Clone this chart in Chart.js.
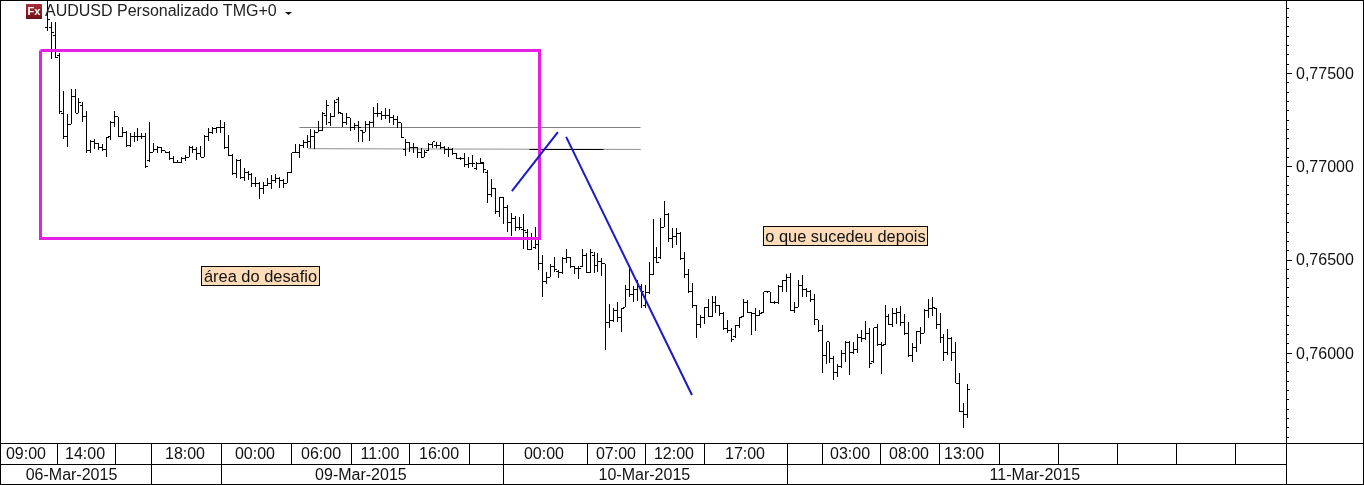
<!DOCTYPE html>
<html><head><meta charset="utf-8">
<style>html,body{margin:0;padding:0;background:#fff}canvas{display:block}</style>
<script src="https://cdn.jsdelivr.net/npm/chart.js@4/dist/chart.umd.min.js"></script>
</head><body><canvas id="c" width="1364" height="485"></canvas>
<script>
// AUDUSD prices, in units of 0.00001, one entry per bar
const highs=[77907,77773,77773,77607,77404,77280,77414,77414,77366,77344,77296,77141,77146,77125,77120,77157,77243,77296,77264,77210,77189,77178,77183,77205,77178,77178,77237,77125,77109,77103,77082,77082,77055,77033,77049,77060,77109,77109,77103,77109,77168,77205,77210,77210,77248,77237,77168,77066,77039,77039,76990,76975,76964,76942,76915,76915,76937,76953,76959,76942,76932,76969,77071,77120,77120,77141,77168,77200,77194,77243,77290,77355,77285,77355,77371,77285,77285,77259,77232,77243,77194,77243,77243,77317,77339,77296,77312,77307,77274,77269,77232,77146,77130,77125,77103,77098,77087,77125,77130,77130,77130,77109,77103,77098,77071,77049,77071,77049,77060,77022,77044,77022,76980,76932,76883,76835,76835,76792,76749,76733,76727,76744,76663,76642,76674,76615,76524,76433,76476,76513,76444,76513,76556,76513,76465,76465,76556,76535,76556,76540,76535,76508,76476,76262,76240,76272,76240,76363,76470,76358,76390,76369,76363,76486,76717,76567,76722,76814,76749,76669,76669,76647,76540,76449,76374,76256,76202,76245,76288,76304,76304,76256,76218,76176,76133,76149,76192,76288,76283,76218,76240,76229,76326,76331,76326,76278,76363,76390,76422,76428,76272,76390,76417,76347,76337,76315,76176,76149,76058,76058,75983,75940,76015,76064,76064,76058,76101,76122,76171,76133,76133,76154,76058,76256,76208,76240,76240,76251,76208,76165,76053,76117,76138,76235,76288,76299,76240,76213,76101,76128,76084,76058,75892,75731,75833];
const lows=[77725,77575,77580,77280,77146,77103,77226,77285,77285,77237,77071,77071,77092,77087,77082,77049,77141,77210,77157,77157,77103,77103,77130,77135,77146,76990,77022,77076,77071,77071,77071,77033,77017,77017,77017,77028,77049,77071,77033,77049,77049,77135,77173,77178,77178,77092,77055,76953,76937,76932,76921,76926,76889,76889,76824,76851,76894,76878,76910,76883,76883,76910,76964,77071,77044,77098,77098,77098,77092,77183,77189,77221,77216,77264,77280,77210,77221,77189,77194,77130,77130,77183,77135,77210,77264,77248,77253,77232,77221,77205,77152,77055,77076,77071,77044,77044,77049,77082,77098,77098,77092,77066,77049,77060,77039,77033,76996,76990,76996,76980,77012,76964,76803,76835,76744,76727,76690,76647,76626,76653,76658,76556,76551,76551,76556,76444,76299,76369,76406,76433,76401,76422,76481,76454,76422,76396,76460,76428,76428,76428,76433,76412,76015,76133,76165,76165,76112,76245,76299,76272,76278,76240,76240,76315,76417,76481,76503,76674,76594,76562,76578,76497,76401,76321,76240,76079,76133,76154,76192,76192,76213,76197,76122,76106,76058,76079,76133,76192,76213,76095,76117,76197,76213,76321,76267,76262,76262,76326,76326,76224,76213,76245,76299,76299,76272,76149,76112,75892,75940,75945,75854,75870,75919,75951,75881,75994,75999,76058,76069,75919,75945,76037,75887,76042,76149,76138,76154,76144,76095,75977,75951,76004,76047,76106,76187,76197,76128,76053,75956,75988,75956,75838,75683,75597,75651];
const opens=[77741,77746,77703,77591,77285,77157,77226,77376,77285,77323,77264,77082,77130,77120,77103,77092,77157,77237,77264,77162,77183,77109,77162,77157,77162,77162,77033,77076,77092,77103,77082,77076,77044,77022,77022,77039,77049,77103,77092,77066,77049,77162,77183,77200,77205,77210,77098,77055,76959,77033,76942,76964,76953,76910,76910,76883,76899,76905,76926,76932,76921,76910,76964,77071,77076,77109,77125,77135,77162,77183,77194,77274,77237,77269,77355,77285,77237,77259,77210,77216,77189,77183,77221,77232,77285,77285,77274,77274,77259,77248,77232,77092,77125,77098,77098,77076,77049,77082,77114,77109,77109,77103,77087,77087,77066,77044,77039,77007,77017,76990,77017,77017,76969,76846,76883,76755,76835,76781,76701,76722,76674,76663,76647,76551,76567,76578,76481,76380,76406,76460,76438,76433,76508,76513,76460,76454,76460,76524,76433,76519,76470,76492,76476,76165,76171,76229,76187,76245,76337,76310,76337,76353,76251,76321,76417,76513,76513,76674,76739,76615,76621,76642,76508,76417,76331,76256,76149,76187,76245,76197,76267,76256,76213,76128,76117,76090,76144,76197,76267,76218,76208,76202,76218,76326,76326,76272,76267,76358,76385,76406,76229,76245,76363,76337,76326,76283,76176,76117,75983,76058,75972,75897,75929,75994,76053,76004,76015,76084,76079,76101,75951,76133,76042,76042,76197,76154,76213,76218,76165,76101,75988,76031,76112,76106,76229,76240,76240,76154,76084,75999,76079,75999,75838,75688,75667];
const closes=[77784,77719,77585,77291,77157,77226,77376,77285,77344,77264,77082,77130,77120,77103,77092,77152,77237,77264,77162,77183,77109,77162,77157,77162,77162,76996,77076,77092,77103,77082,77076,77044,77022,77022,77039,77049,77103,77092,77066,77049,77162,77183,77200,77205,77210,77098,77055,76959,77033,76942,76964,76953,76910,76910,76883,76899,76905,76926,76932,76921,76910,76964,77071,77076,77109,77125,77135,77162,77183,77194,77285,77323,77269,77344,77290,77237,77259,77210,77216,77205,77183,77221,77232,77285,77285,77274,77274,77259,77248,77232,77152,77125,77098,77098,77076,77049,77076,77114,77130,77109,77103,77087,77092,77066,77044,77039,77007,77017,77012,77017,77022,76980,76846,76883,76755,76835,76781,76701,76722,76674,76674,76658,76551,76615,76583,76481,76380,76406,76460,76449,76433,76508,76513,76460,76454,76454,76524,76433,76535,76470,76492,76476,76165,76171,76229,76187,76240,76337,76310,76337,76353,76326,76321,76417,76513,76486,76674,76739,76615,76621,76642,76508,76417,76331,76256,76149,76187,76245,76197,76267,76256,76213,76128,76117,76069,76144,76187,76267,76218,76208,76202,76208,76326,76326,76272,76267,76358,76385,76406,76229,76245,76363,76337,76326,76283,76176,76117,75983,76058,75972,75897,75929,75994,76053,76004,76015,76084,76079,76101,75940,76133,76042,76037,76197,76154,76213,76218,76165,76101,75988,76031,76112,76106,76229,76240,76245,76154,76084,75999,76079,75999,75838,75688,75667,75801];

// Time axis, in bar numbers
const hourBoundaries=[2.4,17.2,26.3,44.1,61.9,77.2,92,107.2,115.8,137.2,152,167,188.1,197,211.7,226.7,242,257,271.9,286.9,301.9];
const hourLabels=["09:00","14:00","18:00","00:00","06:00","11:00","16:00","00:00","07:00","12:00","17:00","03:00","08:00","13:00"];
const hourLabelBars=[-5.47,9.54,34.97,52.77,69.56,84.56,99.57,126.26,144.57,159.33,177.39,204.1,219.1,233.1];
const dayBoundaries=[26.3,44.1,115.8,188.1];
const dayLabels=["06-Mar-2015","09-Mar-2015","10-Mar-2015","11-Mar-2015"];
const dayLabelBars=[6.1,79.7,151.8,251.1];

// Drawn objects, in bar number / price
const challengeBox=[[-1.9,0.77618],[125.25,0.77618],[125.25,0.76615],[-1.9,0.76615],[-1.9,0.77618]];
const resistanceA=[[64.2,0.77205],[150.9,0.77205]];
const resistanceB=[[66.3,0.77094],[150.9,0.77090]];
const resistanceBDark=[[122.7,0.77091],[141.5,0.77091]];
const blueUp=[[118.1,0.76867],[129.8,0.77183]];
const blueDown=[[131.9,0.77157],[163.9,0.75774]];
const noteTexts=["área do desafio","o que sucedeu depois"];
const noteBars=[[39.1,69.4],[182,224]];
const notePrices=[[0.76465,0.76358],[0.76680,0.76572]];

const title="AUDUSD Personalizado TMG+0";
const FONT='"Liberation Sans", Arial, sans-serif';
const toPrice=p=>p/100000;
const pts=a=>a.map(([x,y])=>({x,y}));

function tickImage(side){
  const c=document.createElement('canvas');c.width=5;c.height=1;
  const g=c.getContext('2d');g.fillStyle='#000';
  g.fillRect(side<0?0:3,0,2,1);
  return c;
}
const lineDs=(data,color,width,order,snap)=>({type:'line',data:pts(data),borderColor:color,borderWidth:width,pointRadius:0,fill:false,tension:0,order,snap,clip:false,borderCapStyle:'butt',borderJoinStyle:'miter'});

const snapPlugin={id:'snap',beforeDatasetsDraw(chart){
  chart.getSortedVisibleDatasetMetas().forEach(m=>{
    const ds=chart.data.datasets[m.index];
    if(m.type==='bar'){m.data.forEach(el=>{el.x=Math.floor(el.x)+.5;el.y=Math.round(el.y);el.base=Math.round(el.base);});}
    else if(ds.tickMark){m.data.forEach(el=>{el.x=Math.floor(el.x)+.5;el.y=Math.floor(el.y)+.5;});}
    else if(ds.snap){m.data.forEach(el=>{el.x=Math.floor(el.x)+.5;el.y=Math.floor(el.y)+.5;});}
  });
}};

const chromePlugin={id:'chrome',afterDraw(chart){
  const g=chart.ctx,xs=chart.scales.x,ys=chart.scales.y,W=chart.width;
  const R=chart.chartArea.right,B=chart.chartArea.bottom;
  const h=(x0,x1,y)=>{g.fillRect(x0,y,x1-x0,1);};
  const v=(x,y0,y1)=>{g.fillRect(x,y0,1,y1-y0);};
  g.save();
  g.fillStyle='#000';
  const Y0=443,Y1=464,Y2=484;
  h(0,W,0);h(0,W,Y0);h(0,R,Y1);h(0,W,Y2);v(0,0,485);v(W-1,0,485);v(R,0,485);
  hourBoundaries.forEach(b=>v(Math.round(xs.getPixelForValue(b)),Y0,Y1));
  dayBoundaries.forEach(b=>v(Math.round(xs.getPixelForValue(b)),Y1,Y2));
  // price ticks
  ys.ticks.forEach((t,i)=>{
    const py=Math.round(ys.getPixelForTick(i));
    if(py<1||py>=Y0)return;
    const major=Math.round(t.value*100000)%500===0;
    h(R,R+(major?6:3),py);
  });
  // time labels
  g.font='16px '+FONT;g.textAlign='center';g.textBaseline='middle';g.fillStyle='#111';
  hourLabels.forEach((s,i)=>g.fillText(s,xs.getPixelForValue(hourLabelBars[i]),455));
  dayLabels.forEach((s,i)=>g.fillText(s,xs.getPixelForValue(dayLabelBars[i]),476));
  // notes
  noteTexts.forEach((s,i)=>{
    const x0=Math.round(xs.getPixelForValue(noteBars[i][0])),x1=Math.round(xs.getPixelForValue(noteBars[i][1]));
    const y0=Math.round(ys.getPixelForValue(notePrices[i][0])),y1=Math.round(ys.getPixelForValue(notePrices[i][1]));
    g.fillStyle='#fddcb9';g.fillRect(x0,y0,x1-x0,y1-y0);
    g.strokeStyle='#000';g.lineWidth=1;g.strokeRect(x0+.5,y0+.5,x1-x0-1,y1-y0-1);
    g.fillStyle='#111';g.font='16.4px '+FONT;g.textAlign='center';g.textBaseline='middle';
    g.fillText(s,(x0+x1)/2,(y0+y1)/2+1);
  });
  // symbol header
  const grad=g.createLinearGradient(0,4,0,19);grad.addColorStop(0,'#a8303c');grad.addColorStop(1,'#6e1018');
  g.fillStyle=grad;g.fillRect(26,4,16,15);
  g.fillStyle='#fff';g.font='bold 11px '+FONT;g.textAlign='center';g.textBaseline='middle';g.fillText('Fx',34,12);
  g.fillStyle='#222';g.font='16px '+FONT;g.textAlign='left';g.textBaseline='alphabetic';g.fillText(title,45,16);
  g.fillStyle='#111';g.beginPath();g.moveTo(285,12);g.lineTo(292,12);g.lineTo(288.5,15);g.closePath();g.fill();
  g.restore();
}};

new Chart(document.getElementById('c'),{
  type:'bar',
  data:{datasets:[
    {label:'High-Low',data:highs.map((h,i)=>({x:i,y:[toPrice(lows[i]),toPrice(h)]})),backgroundColor:'#000',borderWidth:0,barThickness:1,inflateAmount:0,grouped:false,order:5},
    {type:'line',label:'Open',tickMark:true,data:opens.map((v,i)=>({x:i,y:toPrice(v)})),showLine:false,pointStyle:tickImage(-1),pointRadius:3,order:4},
    {type:'line',label:'Close',tickMark:true,data:closes.map((v,i)=>({x:i,y:toPrice(v)})),showLine:false,pointStyle:tickImage(1),pointRadius:3,order:4},
    lineDs(resistanceA,'#808080',1,7,1),
    lineDs(resistanceB,'#909090',1,7,0),
    lineDs(resistanceBDark,'#000000',1,6,1),
    lineDs(challengeBox,'#e61ee6',3,2,1),
    lineDs(blueUp,'#1a1ac4',2,1,0),
    lineDs(blueDown,'#1a1ac4',2,1,0)
  ]},
  options:{
    responsive:false,animation:false,events:[],devicePixelRatio:1,
    layout:{autoPadding:false,padding:{left:1,top:1,right:0,bottom:42}},
    plugins:{legend:{display:false},tooltip:{enabled:false},title:{display:false}},
    scales:{
      x:{type:'linear',display:false,min:-11.826,max:314.98,offset:false,grid:{display:false}},
      y:{type:'linear',position:'right',min:0.755165,max:0.778856,
        afterFit(s){s.width=78;s.paddingTop=0;s.paddingBottom=0;s.paddingLeft=0;s.paddingRight=0;},
        border:{display:false},
        grid:{display:false,drawTicks:false},
        ticks:{stepSize:0.0005,includeBounds:false,autoSkip:false,padding:10,maxRotation:0,labelOffset:1.5,
          color:'#111',font:{family:FONT,size:16},
          callback(v){return Math.round(v*100000)%500===0?v.toFixed(5).replace('.',','):'';}}
      }
    }
  },
  plugins:[snapPlugin,chromePlugin]
});
</script></body></html>
